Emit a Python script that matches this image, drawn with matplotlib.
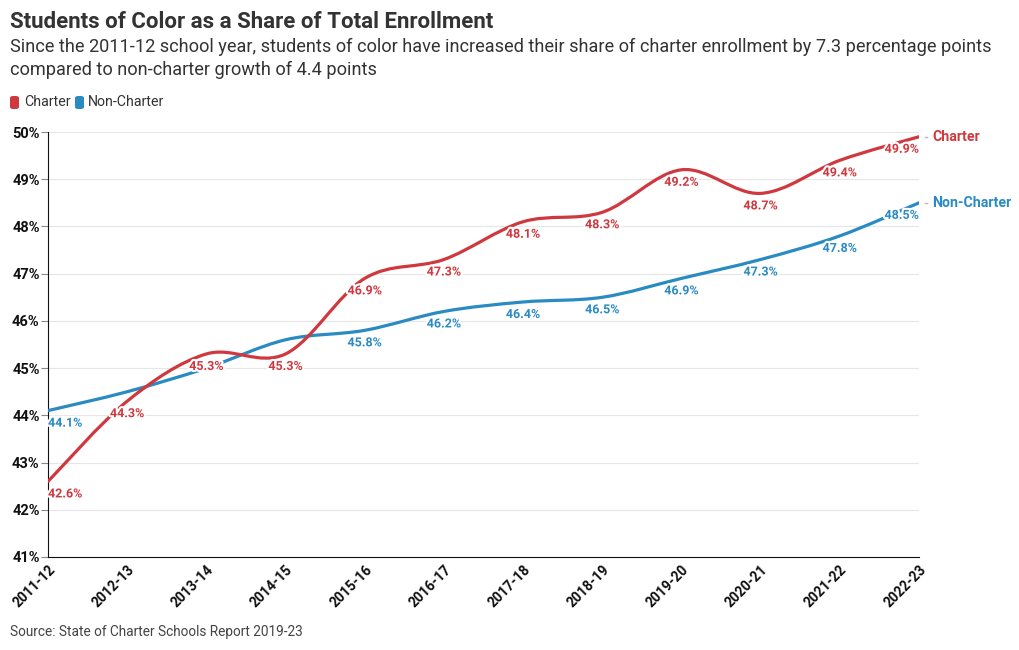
import numpy as np
import matplotlib.pyplot as plt
import matplotlib.patheffects as pe
from matplotlib.path import Path
from matplotlib.patches import PathPatch, FancyBboxPatch

plt.rcParams['font.family'] = ['Roboto', 'DejaVu Sans']

years = ['2011-12', '2012-13', '2013-14', '2014-15', '2015-16', '2016-17',
         '2017-18', '2018-19', '2019-20', '2020-21', '2021-22', '2022-23']
charter = [42.6, 44.3, 45.3, 45.3, 46.9, 47.3, 48.1, 48.3, 49.2, 48.7, 49.4, 49.9]
non_charter = [44.1, 44.5, 45.0, 45.6, 45.8, 46.2, 46.4, 46.5, 46.9, 47.3, 47.8, 48.5]
non_charter_labels = [44.1, None, None, None, 45.8, 46.2, 46.4, 46.5, 46.9, 47.3, 47.8, 48.5]
charter_labels = [42.6, 44.3, 45.3, 45.3, 46.9, 47.3, 48.1, 48.3, 49.2, 48.7, 49.4, 49.9]

RED = '#d0383f'
BLUE = '#2a8bc3'


def smooth_path(xs, ys):
    # catmull-rom through the points, drawn as cubic bezier segments
    pts = np.column_stack([xs, ys]).astype(float)
    ext = np.vstack([pts[0], pts, pts[-1]])
    verts = [tuple(pts[0])]
    codes = [Path.MOVETO]
    for i in range(1, len(ext) - 2):
        p0, p1, p2, p3 = ext[i - 1], ext[i], ext[i + 1], ext[i + 2]
        c1 = p1 + (p2 - p0) / 6
        c2 = p2 - (p3 - p1) / 6
        verts += [tuple(c1), tuple(c2), tuple(p2)]
        codes += [Path.CURVE4] * 3
    return Path(verts, codes)


fig = plt.figure(figsize=(10.2, 6.5), dpi=100)
ax = fig.add_axes([48 / 1020, 1 - 557 / 650, (919 - 48) / 1020, (557 - 132) / 650])

x = np.arange(len(years))
for vals, color in [(non_charter, BLUE), (charter, RED)]:
    ax.add_patch(PathPatch(smooth_path(x, vals), facecolor='none', edgecolor=color,
                           lw=2.3, capstyle='round', joinstyle='round', zorder=3))

ax.set_xlim(0, len(years) - 1)
ax.set_ylim(41, 50)
ax.set_yticks(range(41, 51))
ax.set_yticklabels([f'{v}%' for v in range(41, 51)], fontsize=10.5, fontweight='bold', color='#111')
ax.set_xticks(x)
ax.set_xticklabels(years, rotation=45, ha='right', rotation_mode='anchor',
                   fontsize=10, fontweight='bold', color='#111')
ax.tick_params(axis='y', length=5, color='#888', pad=1)
ax.tick_params(axis='x', length=0, pad=4)
ax.grid(axis='y', color='#e6e6e6', lw=0.8)
ax.set_axisbelow(True)
for s in ['top', 'right']:
    ax.spines[s].set_visible(False)
ax.spines['left'].set_color('#111')
ax.spines['bottom'].set_color('#111')

halo = [pe.withStroke(linewidth=3, foreground='white')]


def label_points(labels, color):
    for i, v in enumerate(labels):
        if v is None:
            continue
        ha = 'center'
        if i == 0:
            ha = 'left'
        elif i == len(labels) - 1:
            ha = 'right'
        ax.annotate(f'{v}%', (i, v), xytext=(0, -9), textcoords='offset points',
                    ha=ha, va='center', fontsize=9, fontweight='bold', color=color,
                    path_effects=halo, zorder=5, annotation_clip=False)


label_points(charter_labels, RED)
label_points(non_charter_labels, BLUE)

# end labels
for name, vals, color in [('Charter', charter, RED), ('Non-Charter', non_charter, BLUE)]:
    ax.annotate(name, (len(years) - 1, vals[-1]), xytext=(9.5, 0), textcoords='offset points',
                ha='left', va='center', fontsize=10.2, fontweight='bold', color=color,
                annotation_clip=False)
    ax.plot([len(years) - 1 + 0.07, len(years) - 1 + 0.1], [vals[-1]] * 2, color='#bbb',
            lw=1, clip_on=False)

fig.text(10 / 1020, 1 - 22 / 650, 'Students of Color as a Share of Total Enrollment',
         fontsize=16, fontweight='bold', color='#333', va='center')
fig.text(10 / 1020, 1 - 47 / 650,
         'Since the 2011-12 school year, students of color have increased their share of charter enrollment by 7.3 percentage points',
         fontsize=13.1, color='#333', va='center')
fig.text(10 / 1020, 1 - 70 / 650, 'compared to non-charter growth of 4.4 points',
         fontsize=13.1, color='#333', va='center')

# legend
for lx, tx, name, color in [(10, 24, 'Charter', RED), (75, 88, 'Non-Charter', BLUE)]:
    fig.patches.append(FancyBboxPatch((lx / 1020, 1 - 109 / 650), 9 / 1020, 13 / 650,
                                      boxstyle='round,pad=0,rounding_size=0.003',
                                      transform=fig.transFigure, facecolor=color,
                                      edgecolor='none'))
    fig.text(tx / 1020, 1 - 102 / 650, name, fontsize=10.2, color='#333', va='center')

fig.text(10 / 1020, 1 - 632 / 650, 'Source: State of Charter Schools Report 2019-23',
         fontsize=9.8, color='#444', va='center')

fig.savefig('out.png', dpi=100)
